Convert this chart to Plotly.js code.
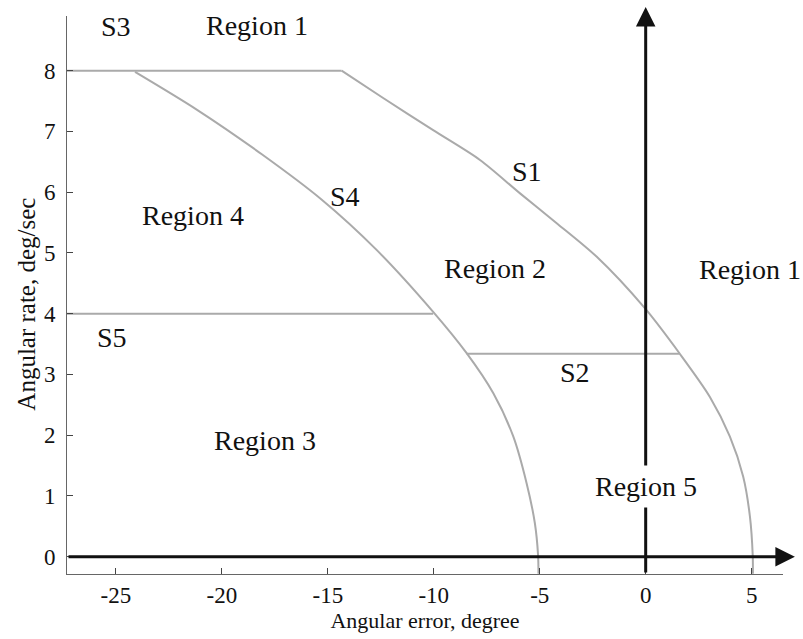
<!DOCTYPE html>
<html>
<head>
<meta charset="utf-8">
<script src="https://cdn.plot.ly/plotly-3.0.1.min.js"></script>
<style>html,body{margin:0;padding:0;background:#fff;}#chart{width:803px;height:639px;}</style>
</head>
<body>
<div id="chart"></div>
<script>
// Switching curves
const s1X = [-14.35, -12.39, -10.03, -7.82, -5.93, -4.20, -2.32, -0.04, 1.61, 3.03, 3.97, 4.60, 4.92, 5.05, 5.06];
const s1Y = [8.0, 7.55, 7.02, 6.53, 5.98, 5.49, 4.94, 4.09, 3.34, 2.63, 1.98, 1.32, 0.66, 0.03, -0.28];
const s4X = [-24.1, -21.19, -18.1, -15.3, -12.7, -10.03, -8.45, -7.19, -6.25, -5.62, -5.23, -5.08, -5.06];
const s4Y = [7.98, 7.36, 6.62, 5.88, 5.05, 4.03, 3.35, 2.69, 1.98, 1.21, 0.55, 0.03, -0.28];
const s3X = [-27.31, -14.35];
const s3Y = [8.0, 8.0];
const s5X = [-27.31, -10.03];
const s5Y = [4.0, 4.0];
const s2X = [-8.45, 1.61];
const s2Y = [3.34, 3.34];

const xTickVals = [-25, -20, -15, -10, -5, 0, 5];
const xTickText = ["-25", "-20", "-15", "-10", "-5", "0", "5"];
const yTickVals = [0, 1, 2, 3, 4, 5, 6, 7, 8];

const labelText = ["Region 1", "S3", "Region 4", "S4", "S1", "Region 2", "Region 1", "S5", "S2", "Region 3"];
const labelX = [-18.35, -25.0, -21.37, -14.19, -5.62, -7.11, 4.92, -25.2, -3.34, -17.97];
const labelY = [8.75, 8.72, 5.62, 5.93, 6.34, 4.75, 4.72, 3.60, 3.03, 1.92];

const xRange = [-27.31, 6.48];
const yRange = [-0.285, 8.9];

const gray = 'rgb(170,170,170)';
function seg(x, y, curved) {
  return {x: x, y: y, type: 'scatter', mode: 'lines',
    line: {color: gray, width: 2, shape: curved ? 'spline' : 'linear', smoothing: 0.8},
    hoverinfo: 'skip', showlegend: false, cliponaxis: false};
}
const data = [seg(s1X, s1Y, true), seg(s4X, s4Y, true), seg(s3X, s3Y, false), seg(s5X, s5Y, false), seg(s2X, s2Y, false)];

const serif = 'Liberation Serif';
const annotations = [];
// horizontal arrow (y = 0)
annotations.push({x: 7.04, y: 0, ax: xRange[0], ay: 0, xref: 'x', yref: 'y', axref: 'x', ayref: 'y',
  text: '', showarrow: true, arrowhead: 2, arrowsize: 1.3, arrowwidth: 3, arrowcolor: '#111'});
// vertical arrow (x = 0)
annotations.push({x: 0, y: 9.05, ax: 0, ay: yRange[0], xref: 'x', yref: 'y', axref: 'x', ayref: 'y',
  text: '', showarrow: true, arrowhead: 2, arrowsize: 1.3, arrowwidth: 3, arrowcolor: '#111'});
for (let i = 0; i < labelText.length; i++) {
  annotations.push({x: labelX[i], y: labelY[i], xref: 'x', yref: 'y', text: labelText[i], showarrow: false,
    font: {family: serif, size: 28, color: '#111'}});
}
// Region 5 with white background covering the vertical axis
annotations.push({x: 0, y: 1.15, xref: 'x', yref: 'y', text: 'Region 5', showarrow: false, bgcolor: '#fff', borderpad: 5,
  font: {family: serif, size: 28, color: '#111'}});
// y-axis title (placed slightly below the plot centre as in the reference)
annotations.push({x: -0.057, y: 0.483, xref: 'paper', yref: 'paper', xanchor: 'center', yanchor: 'middle',
  text: 'Angular rate, deg/sec', textangle: -90, showarrow: false,
  font: {family: serif, size: 25, color: '#111'}});

const layout = {
  width: 803, height: 639,
  margin: {l: 67, r: 20, t: 16, b: 65},
  paper_bgcolor: '#fff', plot_bgcolor: '#fff',
  font: {family: serif, size: 23, color: '#111'},
  showlegend: false,
  xaxis: {range: xRange, tickvals: xTickVals, ticktext: xTickText, showgrid: false, zeroline: false,
    showline: true, linecolor: '#666', linewidth: 1, ticks: 'inside', ticklen: 6, tickcolor: '#444',
    tickfont: {family: serif, size: 23, color: '#111'}, ticklabelstandoff: 0,
    title: {text: 'Angular error, degree', font: {family: serif, size: 22, color: '#111'}, standoff: 6}},
  yaxis: {range: yRange, tickvals: yTickVals, showgrid: false, zeroline: false,
    showline: true, linecolor: '#666', linewidth: 1, ticks: 'inside', ticklen: 6, tickcolor: '#444',
    tickfont: {family: serif, size: 23, color: '#111'}, ticklabelstandoff: 6},
  annotations: annotations
};
Plotly.newPlot('chart', data, layout, {displayModeBar: false, staticPlot: true});
</script>
</body>
</html>
